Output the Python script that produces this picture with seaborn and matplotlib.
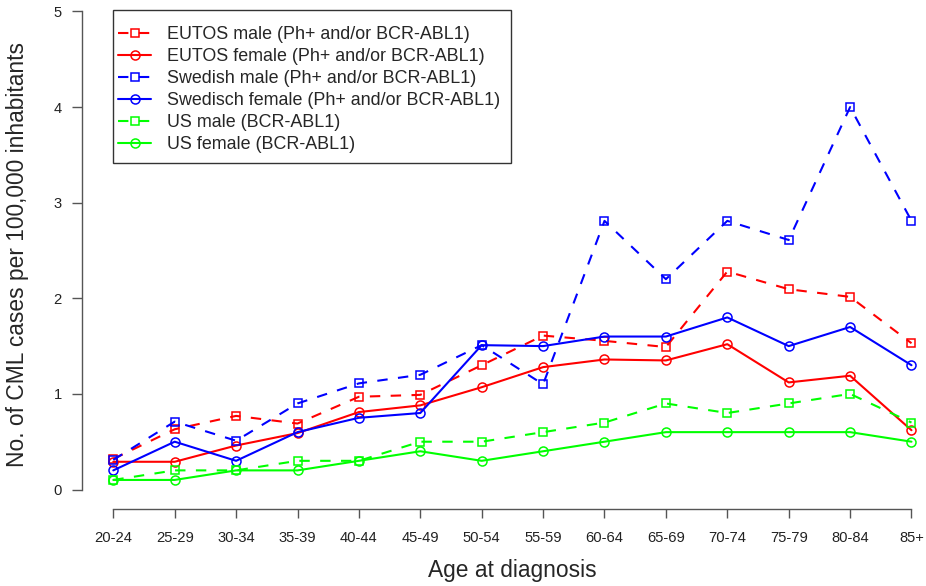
import pandas as pd
import seaborn as sns
import matplotlib.pyplot as plt
from matplotlib.patches import Rectangle

# ----------------------------------------------------------------
# Data (incidence per 100,000 inhabitants)
# ----------------------------------------------------------------
age_groups = ["20-24", "25-29", "30-34", "35-39", "40-44", "45-49", "50-54",
              "55-59", "60-64", "65-69", "70-74", "75-79", "80-84", "85+"]

eutos_male = [0.32, 0.63, 0.77, 0.69, 0.97, 0.99, 1.30, 1.61, 1.555, 1.49, 2.28, 2.095, 2.015, 1.53]
eutos_female = [0.29, 0.29, 0.46, 0.59, 0.81, 0.88, 1.07, 1.28, 1.36, 1.35, 1.52, 1.12, 1.19, 0.62]
swedish_male = [0.31, 0.71, 0.51, 0.90, 1.11, 1.20, 1.51, 1.10, 2.81, 2.20, 2.81, 2.61, 4.00, 2.81]
swedish_female = [0.20, 0.50, 0.30, 0.60, 0.75, 0.80, 1.51, 1.50, 1.60, 1.60, 1.80, 1.50, 1.70, 1.30]
us_male = [0.10, 0.20, 0.20, 0.30, 0.30, 0.50, 0.50, 0.60, 0.70, 0.90, 0.80, 0.90, 1.00, 0.70]
us_female = [0.10, 0.10, 0.20, 0.20, 0.30, 0.40, 0.30, 0.40, 0.50, 0.60, 0.60, 0.60, 0.60, 0.50]

series_labels = ["EUTOS male (Ph+ and/or BCR-ABL1)",
                 "EUTOS female (Ph+ and/or BCR-ABL1)",
                 "Swedish male (Ph+ and/or BCR-ABL1)",
                 "Swedisch female (Ph+ and/or BCR-ABL1)",
                 "US male (BCR-ABL1)",
                 "US female (BCR-ABL1)"]
series_values = [eutos_male, eutos_female, swedish_male, swedish_female, us_male, us_female]
series_colors = ["#FF0000", "#FF0000", "#0000FF", "#0000FF", "#00FF00", "#00FF00"]
series_sex = ["male", "female", "male", "female", "male", "female"]

# ----------------------------------------------------------------
# Figure setup (R base-graphics look)
# ----------------------------------------------------------------
sns.set_style("ticks")
plt.rcParams['font.family'] = ['Liberation Sans', 'DejaVu Sans']

W, H = 926, 586
fig = plt.figure(figsize=(W / 100, H / 100), dpi=100)

left_px, right_px = 81.7, 920.0
bottom_px, top_px = 489.5, 11.5
ax = fig.add_axes([left_px / W, 1 - bottom_px / H,
                   (right_px - left_px) / W, (bottom_px - top_px) / H])

x0_px, dx_px = 113.3, 61.4

for label, vals, color, sex in zip(series_labels, series_values, series_colors, series_sex):
    is_male = sex == "male"
    sns.lineplot(
        x=age_groups, y=vals, ax=ax, sort=False,
        color=color,
        linewidth=1.5,
        linestyle=(0, (5, 5)) if is_male else "-",
        marker="s" if is_male else "o",
        markersize=6 if is_male else 6.5,
        markerfacecolor="none",
        markeredgecolor=color,
        markeredgewidth=1.1,
        label=label,
        clip_on=False,
    )

ax.set_xlim(-(x0_px - left_px) / dx_px, 13 + (right_px - (x0_px + 13 * dx_px)) / dx_px)
ax.set_ylim(0, 5)
ax.set_yticks(range(6))

axis_color = "#555555"
for s in ["top", "right"]:
    ax.spines[s].set_visible(False)
ax.spines["left"].set_bounds(0, 5)
ax.spines["bottom"].set_position(("outward", 14))
ax.spines["bottom"].set_bounds(0, 13)
for s in ["left", "bottom"]:
    ax.spines[s].set_color(axis_color)
    ax.spines[s].set_linewidth(1)

ax.tick_params(axis="y", direction="out", length=7.2, width=1, color=axis_color,
               pad=7, labelsize=10.6, labelcolor="#222222")
ax.tick_params(axis="x", direction="out", length=6.7, width=1, color=axis_color,
               pad=9.5, labelsize=10.6, labelcolor="#222222")

ax.set_ylabel("No. of CML cases per 100,000 inhabitants", fontsize=16.4, va="center")
ax.yaxis.set_label_coords((18 - left_px) / (right_px - left_px), (bottom_px - 254.5) / (bottom_px - top_px))
ax.set_xlabel("Age at diagnosis", fontsize=16.4, va="center")
ax.xaxis.set_label_coords((512 - left_px) / (right_px - left_px), (bottom_px - 570) / (bottom_px - top_px))

# legend entries without frame; the R-style box is drawn separately
leg = ax.legend(
    loc="upper left",
    bbox_to_anchor=(118 / W, 1 - 26 / H),
    bbox_transform=fig.transFigure,
    borderaxespad=0,
    borderpad=0,
    fontsize=12.9,
    frameon=False,
    handlelength=1.85,
    handletextpad=0.9,
    labelspacing=0.28,
)
fig.add_artist(Rectangle((113 / W, 1 - 163 / H), 398 / W, 153 / H,
                         transform=fig.transFigure, fill=False,
                         edgecolor="#333333", linewidth=1))

plt.savefig("out.png", dpi=100)
